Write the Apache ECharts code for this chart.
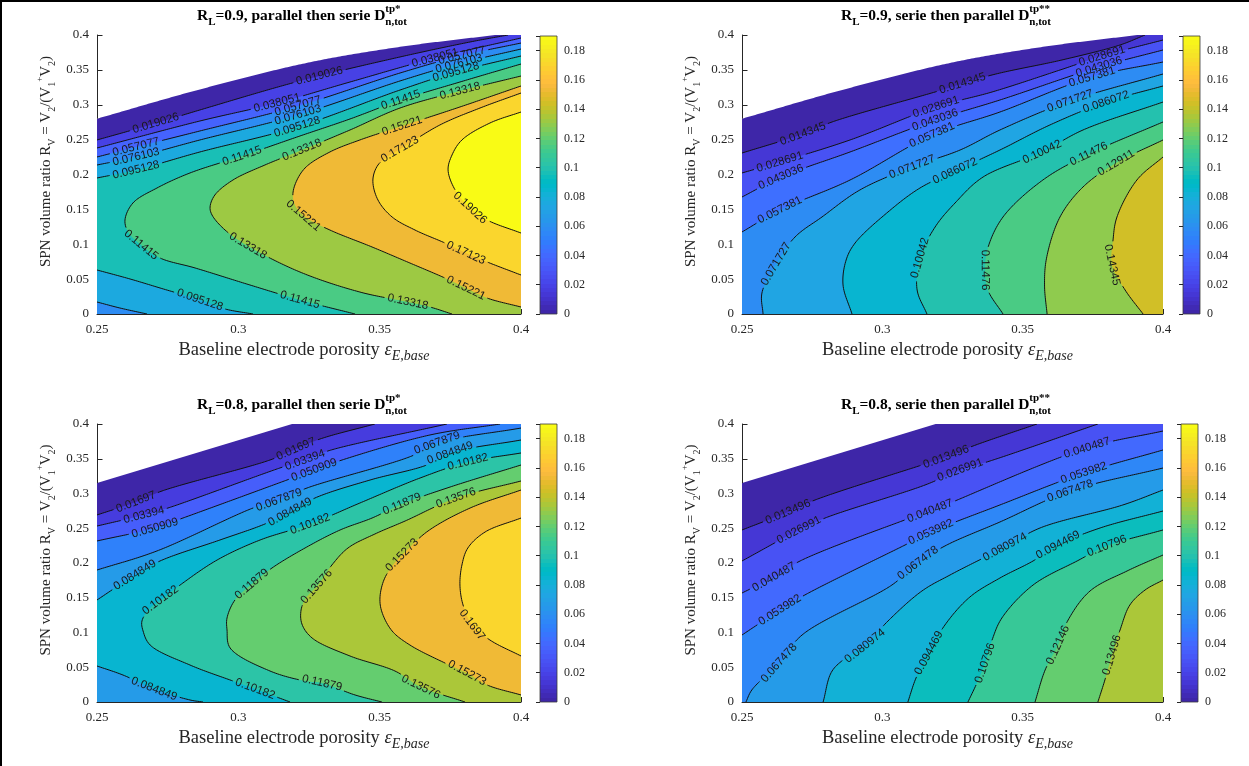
<!DOCTYPE html>
<html>
<head>
<meta charset="utf-8">
<title>SPN volume ratio contour maps</title>
<script src="https://cdn.jsdelivr.net/npm/echarts/dist/echarts.min.js"></script>
<style>
html, body { margin: 0; padding: 0; background: #fff; }
#chart { width: 1249px; height: 766px; }
</style>
</head>
<body>
<div id="chart"></div>
<script>
// ---------- shared axes and colour scale ----------
const xTicks = [0.25, 0.3, 0.35, 0.4];
const yTicks = [0, 0.05, 0.1, 0.15, 0.2, 0.25, 0.3, 0.35, 0.4];
const colorbarTicks = [0, 0.02, 0.04, 0.06, 0.08, 0.1, 0.12, 0.14, 0.16, 0.18];
const colorbarMax = 0.19;

// parula, 64 entries
const PARULA = [
[0.2422,0.1504,0.6603],[0.2504,0.1650,0.7076],[0.2578,0.1818,0.7511],[0.2647,0.1978,0.7952],
[0.2706,0.2147,0.8364],[0.2751,0.2342,0.8710],[0.2783,0.2559,0.8991],[0.2803,0.2782,0.9221],
[0.2813,0.3006,0.9414],[0.2810,0.3228,0.9579],[0.2795,0.3447,0.9717],[0.2760,0.3667,0.9829],
[0.2699,0.3892,0.9906],[0.2602,0.4123,0.9952],[0.2440,0.4358,0.9988],[0.2206,0.4603,0.9973],
[0.1963,0.4847,0.9892],[0.1834,0.5074,0.9798],[0.1786,0.5289,0.9682],[0.1764,0.5499,0.9520],
[0.1687,0.5703,0.9359],[0.1540,0.5902,0.9218],[0.1460,0.6091,0.9079],[0.1380,0.6276,0.8973],
[0.1248,0.6459,0.8883],[0.1113,0.6635,0.8763],[0.0952,0.6798,0.8598],[0.0689,0.6948,0.8394],
[0.0297,0.7082,0.8163],[0.0036,0.7203,0.7917],[0.0067,0.7312,0.7660],[0.0433,0.7411,0.7394],
[0.0964,0.7500,0.7120],[0.1408,0.7584,0.6842],[0.1717,0.7670,0.6554],[0.1938,0.7758,0.6251],
[0.2161,0.7843,0.5923],[0.2470,0.7918,0.5567],[0.2906,0.7973,0.5188],[0.3406,0.8008,0.4789],
[0.3909,0.8029,0.4354],[0.4456,0.8024,0.3909],[0.5044,0.7993,0.3480],[0.5616,0.7942,0.3045],
[0.6174,0.7876,0.2612],[0.6720,0.7793,0.2227],[0.7242,0.7698,0.1910],[0.7738,0.7598,0.1646],
[0.8203,0.7498,0.1535],[0.8634,0.7406,0.1596],[0.9035,0.7330,0.1774],[0.9393,0.7288,0.2100],
[0.9728,0.7298,0.2394],[0.9956,0.7434,0.2371],[0.9970,0.7659,0.2199],[0.9952,0.7893,0.2028],
[0.9892,0.8136,0.1885],[0.9786,0.8386,0.1766],[0.9676,0.8639,0.1643],[0.9610,0.8890,0.1537],
[0.9597,0.9135,0.1423],[0.9628,0.9373,0.1265],[0.9691,0.9606,0.1064],[0.9769,0.9839,0.0805]
];

// Upper feasibility limit of R_V versus porosity (white above it)
const limitRL09 = [[0.25,0.280],[0.2864,0.322],[0.3254,0.361],[0.3572,0.383],[0.3908,0.4]];
const limitRL08 = [[0.25,0.315],[0.319,0.4]];

// ---------- R_L = 0.9, parallel then serie ----------
const levelsA = [0.019026, 0.038051, 0.057077, 0.076103, 0.095128, 0.11415, 0.13318, 0.15221, 0.17123, 0.19026];
// [level index, contour path (porosity, R_V)]
const linesA = [
 [0, [[0.25,0.2495],[0.2688,0.2710],[0.2864,0.2925],[0.3218,0.3341],[0.3572,0.3685],[0.3820,0.3900],[0.3954,0.4]]],
 [1, [[0.25,0.2380],[0.2864,0.2767],[0.3137,0.3025],[0.3395,0.3326],[0.3696,0.3670],[0.4,0.3957]]],
 [2, [[0.25,0.2251],[0.2638,0.2394],[0.2864,0.2624],[0.3211,0.2982],[0.3572,0.3455],[0.3784,0.3699],[0.4,0.3885]]],
 [3, [[0.25,0.2136],[0.2638,0.2251],[0.2864,0.2495],[0.3211,0.2853],[0.3572,0.3341],[0.3774,0.3584],[0.4,0.3799]]],
 [3, [[0.2677,0],[0.2581,0.0086],[0.25,0.0172]]],
 [4, [[0.25,0.1950],[0.2638,0.2065],[0.2864,0.2323],[0.3208,0.2681],[0.3572,0.3211],[0.3770,0.3470],[0.4,0.3699]]],
 [4, [[0.3052,0],[0.2953,0.0072],[0.2864,0.0201],[0.2723,0.0373],[0.2617,0.0502],[0.25,0.0631]]],
 [5, [[0.3413,0],[0.3218,0.0201],[0.3041,0.0416],[0.2847,0.0660],[0.2723,0.0803],[0.2656,0.0989],[0.2610,0.1176],[0.2599,0.1348],[0.2627,0.1591],[0.2712,0.1806],[0.2829,0.2022],[0.3013,0.2265],[0.3218,0.2552],[0.3395,0.2796],[0.3575,0.3068],[0.3784,0.3326],[0.4,0.3584]]],
 [6, [[0.3756,0],[0.3678,0.0100],[0.3600,0.0172],[0.3430,0.0315],[0.3218,0.0602],[0.3034,0.0975],[0.2953,0.1204],[0.2907,0.1419],[0.2900,0.1534],[0.2917,0.1706],[0.2981,0.1921],[0.3094,0.2136],[0.3225,0.2351],[0.3395,0.2638],[0.3572,0.2953],[0.3784,0.3197],[0.4,0.3412]]],
 [7, [[0.4,0.0100],[0.3880,0.0229],[0.3805,0.0373],[0.3731,0.0516],[0.3607,0.0731],[0.3473,0.0961],[0.3324,0.1204],[0.3236,0.1391],[0.3204,0.1534],[0.3193,0.1677],[0.3200,0.1849],[0.3236,0.2093],[0.3324,0.2323],[0.3430,0.2495],[0.3579,0.2695],[0.3784,0.2968],[0.4,0.3269]]],
 [8, [[0.4,0.0559],[0.3880,0.0746],[0.3805,0.0875],[0.3731,0.1018],[0.3625,0.1204],[0.3544,0.1391],[0.3494,0.1634],[0.3476,0.1921],[0.3494,0.2136],[0.3537,0.2280],[0.3579,0.2380],[0.3713,0.2710],[0.3855,0.2953],[0.4,0.3168]]],
 [9, [[0.4,0.1161],[0.3880,0.1348],[0.3820,0.1520],[0.3767,0.1778],[0.3742,0.2065],[0.3756,0.2280],[0.3791,0.2495],[0.3890,0.2738],[0.4,0.2896]]]
];
// [level index, porosity, R_V] of inline labels
const labelsA = [
 [0,0.2709,0.2738],[0,0.3282,0.3455],
 [1,0.3137,0.3025],[1,0.3696,0.3713],
 [2,0.2638,0.2351],[2,0.3211,0.3011],[2,0.3784,0.3785],
 [3,0.2638,0.2208],[3,0.3211,0.2882],[3,0.3774,0.3642],
 [4,0.2638,0.2022],[4,0.3208,0.2681],[4,0.3770,0.3484],[4,0.2864,0.0201],
 [5,0.3013,0.2265],[5,0.2656,0.0989],[5,0.3218,0.0172],[5,0.3575,0.3068],
 [6,0.3225,0.2351],[6,0.3034,0.0975],[6,0.3600,0.0172],[6,0.3784,0.3197],
 [7,0.3222,0.1376],[7,0.3579,0.2695],[7,0.3805,0.0373],
 [8,0.3579,0.2323],[8,0.3805,0.0875],
 [9,0.3820,0.1520]
];

// ---------- R_L = 0.9, serie then parallel ----------
const levelsB = [0.014345, 0.028691, 0.043036, 0.057381, 0.071727, 0.086072, 0.10042, 0.11476, 0.12911, 0.14345];
const linesB = [
 [0, [[0.25,0.2308],[0.2717,0.2581],[0.2821,0.2753],[0.3188,0.3183],[0.3391,0.3427],[0.3640,0.3642],[0.3847,0.3857],[0.3936,0.4]]],
 [1, [[0.25,0.2022],[0.2635,0.2179],[0.2885,0.2495],[0.3191,0.2968],[0.3391,0.3183],[0.3633,0.3498],[0.3783,0.3699],[0.4,0.3928]]],
 [2, [[0.25,0.1677],[0.2639,0.1964],[0.2885,0.2323],[0.3188,0.2781],[0.3419,0.3068],[0.3772,0.3541],[0.4,0.3785]]],
 [3, [[0.25,0.1176],[0.2635,0.1491],[0.2885,0.1921],[0.3177,0.2566],[0.3419,0.2896],[0.3747,0.3398],[0.4,0.3613]]],
 [4, [[0.2575,0],[0.2571,0.0301],[0.2621,0.0717],[0.2689,0.1104],[0.2785,0.1391],[0.2920,0.1778],[0.3106,0.2108],[0.3277,0.2351],[0.3419,0.2638],[0.3669,0.3054],[0.4,0.3441]]],
 [5, [[0.2892,0],[0.2860,0.0416],[0.2871,0.0774],[0.2903,0.1018],[0.3020,0.1462],[0.3134,0.1806],[0.3259,0.2050],[0.3419,0.2351],[0.3597,0.2710],[0.3797,0.3039],[0.4,0.3269]]],
 [6, [[0.3159,0],[0.3124,0.0344],[0.3134,0.0803],[0.3188,0.1247],[0.3259,0.1591],[0.3359,0.1964],[0.3569,0.2323],[0.3715,0.2638],[0.4,0.3039]]],
 [7, [[0.3430,0],[0.3376,0.0344],[0.3366,0.0631],[0.3376,0.0946],[0.3430,0.1391],[0.3572,0.1921],[0.3736,0.2294],[0.4,0.2753]]],
 [8, [[0.3587,0],[0.3578,0.0400],[0.3585,0.0800],[0.3633,0.1391],[0.3715,0.1821],[0.3833,0.2165],[0.4,0.2495]]],
 [9, [[0.3929,0],[0.3865,0.0344],[0.3818,0.0703],[0.3822,0.1061],[0.3836,0.1391],[0.3907,0.1921],[0.4,0.2251]]]
];
const labelsB = [
 [0,0.2717,0.2581],[0,0.3287,0.3326],
 [1,0.2635,0.2179],[1,0.3191,0.2968],[1,0.3783,0.3699],
 [2,0.2639,0.1964],[2,0.3188,0.2781],[2,0.3772,0.3541],
 [3,0.2635,0.1491],[3,0.3177,0.2566],[3,0.3747,0.3398],
 [4,0.2621,0.0717],[4,0.3106,0.2108],[4,0.3669,0.3054],
 [5,0.3259,0.2050],[5,0.3797,0.3039],
 [6,0.3134,0.0803],[6,0.3569,0.2323],
 [7,0.3366,0.0631],[7,0.3736,0.2294],
 [8,0.3833,0.2165],
 [9,0.3818,0.0703]
];

// ---------- R_L = 0.8, parallel then serie ----------
const levelsC = [0.01697, 0.03394, 0.050909, 0.067879, 0.084849, 0.10182, 0.11879, 0.13576, 0.15273, 0.1697];
const linesC = [
 [0, [[0.25,0.2691],[0.2638,0.2878],[0.2730,0.3036],[0.3112,0.3482],[0.3204,0.3640],[0.3289,0.3784],[0.3483,0.4]]],
 [1, [[0.25,0.2532],[0.2666,0.2691],[0.2751,0.2791],[0.3147,0.3367],[0.3236,0.3482],[0.3317,0.3612],[0.3738,0.4]]],
 [2, [[0.25,0.2317],[0.2705,0.2504],[0.2804,0.2647],[0.3172,0.3194],[0.3268,0.3338],[0.3367,0.3482],[0.3678,0.3842],[0.3926,0.4]]],
 [3, [[0.25,0.1899],[0.2712,0.2173],[0.3052,0.2791],[0.3144,0.2906],[0.3243,0.3079],[0.3614,0.3540],[0.3703,0.3727],[0.4,0.3942]]],
 [4, [[0.25,0.1468],[0.2634,0.1827],[0.2723,0.2029],[0.2935,0.2331],[0.3094,0.2561],[0.3183,0.2734],[0.3271,0.2935],[0.3466,0.3194],[0.3667,0.3410],[0.3749,0.3583],[0.4,0.3770]]],
 [4, [[0.2875,0],[0.2829,0.0029],[0.2702,0.0187],[0.2592,0.0388],[0.25,0.0518]]],
 [5, [[0.3183,0],[0.3059,0.0187],[0.2981,0.0302],[0.2829,0.0532],[0.2688,0.0820],[0.2663,0.1022],[0.2659,0.1165],[0.2688,0.1353],[0.2730,0.1482],[0.2794,0.1683],[0.2925,0.2043],[0.3077,0.2331],[0.3254,0.2561],[0.3430,0.2863],[0.3643,0.3223],[0.3812,0.3453],[0.4,0.3583]]],
 [6, [[0.3508,0],[0.3413,0.0101],[0.3296,0.0273],[0.3236,0.0302],[0.3112,0.0446],[0.2971,0.0777],[0.2960,0.1036],[0.2960,0.1209],[0.2988,0.1468],[0.3048,0.1698],[0.3119,0.1928],[0.3236,0.2216],[0.3360,0.2475],[0.3473,0.2647],[0.3579,0.2849],[0.3749,0.3093],[0.4,0.3410]]],
 [7, [[0.3802,0],[0.3646,0.0216],[0.3554,0.0446],[0.3395,0.0662],[0.3261,0.0921],[0.3225,0.1122],[0.3222,0.1324],[0.3239,0.1496],[0.3282,0.1683],[0.3331,0.1971],[0.3388,0.2216],[0.3483,0.2417],[0.3590,0.2604],[0.3770,0.2935],[0.4,0.3180]]],
 [8, [[0.4,0.0101],[0.3880,0.0245],[0.3809,0.0417],[0.3731,0.0561],[0.3607,0.0820],[0.3544,0.1022],[0.3508,0.1295],[0.3501,0.1496],[0.3515,0.1755],[0.3547,0.1971],[0.3590,0.2158],[0.3671,0.2460],[0.3820,0.2791],[0.4,0.3050]]],
 [9, [[0.4,0.0662],[0.3890,0.0892],[0.3827,0.1108],[0.3795,0.1396],[0.3784,0.1683],[0.3791,0.1971],[0.3812,0.2216],[0.3873,0.2446],[0.4,0.2647]]]
];
const labelsC = [
 [0,0.2638,0.2878],[0,0.3204,0.3640],
 [1,0.2666,0.2691],[1,0.3236,0.3482],
 [2,0.2705,0.2504],[2,0.3268,0.3338],
 [3,0.3144,0.2906],[3,0.3703,0.3727],
 [4,0.2634,0.1827],[4,0.3183,0.2734],[4,0.3749,0.3583],[4,0.2702,0.0187],
 [5,0.2730,0.1453],[5,0.3254,0.2561],[5,0.3812,0.3453],[5,0.3059,0.0187],
 [6,0.3048,0.1698],[6,0.3579,0.2849],[6,0.3296,0.0273],
 [7,0.3282,0.1640],[7,0.3770,0.2935],[7,0.3646,0.0216],
 [8,0.3590,0.2086],[8,0.3809,0.0417],
 [9,0.3827,0.1108]
];

// ---------- R_L = 0.8, serie then parallel ----------
const levelsD = [0.013496, 0.026991, 0.040487, 0.053982, 0.067478, 0.080974, 0.094469, 0.10796, 0.12146, 0.13496];
const linesD = [
 [0, [[0.25,0.2475],[0.2664,0.2734],[0.2760,0.2906],[0.3141,0.3410],[0.3227,0.3525],[0.3323,0.3683],[0.3551,0.4]]],
 [1, [[0.25,0.2029],[0.2703,0.2475],[0.2796,0.2647],[0.3152,0.3122],[0.3277,0.3338],[0.3384,0.3468],[0.3768,0.4]]],
 [2, [[0.25,0.1568],[0.2614,0.1798],[0.2707,0.2029],[0.3070,0.2604],[0.3170,0.2748],[0.3241,0.2863],[0.3729,0.3655],[0.4,0.3899]]],
 [3, [[0.25,0.0964],[0.2635,0.1324],[0.2724,0.1540],[0.3081,0.2259],[0.3173,0.2446],[0.3419,0.2835],[0.3718,0.3295],[0.4,0.3626]]],
 [4, [[0.2514,0],[0.2535,0.0173],[0.2632,0.0561],[0.2714,0.0964],[0.3034,0.1683],[0.3127,0.2000],[0.3223,0.2245],[0.3419,0.2590],[0.3669,0.3036],[0.4,0.3367]]],
 [5, [[0.2789,0],[0.2821,0.0446],[0.2885,0.0676],[0.2938,0.0806],[0.3020,0.1165],[0.3141,0.1597],[0.3241,0.1827],[0.3437,0.2230],[0.3562,0.2504],[0.3857,0.2835],[0.4,0.3050]]],
 [6, [[0.3091,0],[0.3120,0.0345],[0.3166,0.0705],[0.3223,0.1108],[0.3312,0.1511],[0.3419,0.1784],[0.3537,0.2029],[0.3626,0.2259],[0.3776,0.2504],[0.4,0.2748]]],
 [7, [[0.3305,0],[0.3337,0.0273],[0.3366,0.0561],[0.3391,0.0892],[0.3426,0.1209],[0.3537,0.1683],[0.3694,0.2029],[0.3800,0.2245],[0.4,0.2475]]],
 [8, [[0.3544,0],[0.3580,0.0460],[0.3626,0.0820],[0.3662,0.1180],[0.3740,0.1597],[0.3872,0.1885],[0.4,0.2115]]],
 [9, [[0.3768,0],[0.3793,0.0317],[0.3818,0.0676],[0.3847,0.1036],[0.3882,0.1396],[0.3936,0.1611],[0.4,0.1755]]]
];
const labelsD = [
 [0,0.2664,0.2734],[0,0.3227,0.3525],
 [1,0.2703,0.2475],[1,0.3277,0.3338],
 [2,0.2614,0.1798],[2,0.3170,0.2748],[2,0.3729,0.3655],
 [3,0.2635,0.1324],[3,0.3173,0.2446],[3,0.3718,0.3295],
 [4,0.2632,0.0561],[4,0.3127,0.2000],[4,0.3669,0.3036],
 [5,0.2938,0.0806],[5,0.3437,0.2230],
 [6,0.3166,0.0705],[6,0.3626,0.2259],
 [7,0.3366,0.0561],[7,0.3800,0.2245],
 [8,0.3626,0.0820],
 [9,0.3818,0.0676]
];

// ---------- layout ----------
const SERIF = 'Liberation Serif';
const INK = '#262626';
const LABEL_FONT_SIZE = 11.5;
const LABEL_FAMILY = 'Liberation Sans';
const TICK_LEN = 5;

const panels = [
  { levels: levelsA, lines: linesA, labels: labelsA, limit: limitRL09, rl: '0.9', order: 'parallel then serie', star: '*',
    grid: { left: 97, top: 35, width: 424, height: 279 }, cbar: { left: 540, top: 36, width: 17, height: 278 }, titleX: 302, titleY: 16 },
  { levels: levelsB, lines: linesB, labels: labelsB, limit: limitRL09, rl: '0.9', order: 'serie then parallel', star: '**',
    grid: { left: 742, top: 35, width: 421, height: 279 }, cbar: { left: 1183, top: 36, width: 17, height: 278 }, titleX: 946, titleY: 16 },
  { levels: levelsC, lines: linesC, labels: labelsC, limit: limitRL08, rl: '0.8', order: 'parallel then serie', star: '*',
    grid: { left: 97, top: 424, width: 424, height: 278 }, cbar: { left: 540, top: 424, width: 17, height: 278 }, titleX: 302, titleY: 405 },
  { levels: levelsD, lines: linesD, labels: labelsD, limit: limitRL08, rl: '0.8', order: 'serie then parallel', star: '**',
    grid: { left: 742, top: 424, width: 421, height: 278 }, cbar: { left: 1181, top: 424, width: 17, height: 278 }, titleX: 946, titleY: 405 }
];

// ---------- helpers ----------
function rgbOf(c) { return 'rgb(' + c.map(function (v) { return Math.round(v * 255); }).join(',') + ')'; }
function levelColor(v) {
  let i = Math.floor(v / colorbarMax * PARULA.length);
  i = Math.max(0, Math.min(PARULA.length - 1, i));
  return rgbOf(PARULA[i]);
}
function dist(a, b) { return Math.hypot(b[0] - a[0], b[1] - a[1]); }

// centripetal Catmull-Rom through the given screen points
function smooth(pts) {
  const n = pts.length;
  if (n < 3) return pts.map(function (p) { return p.slice(); });
  const P = [[2 * pts[0][0] - pts[1][0], 2 * pts[0][1] - pts[1][1]]].concat(pts,
            [[2 * pts[n - 1][0] - pts[n - 2][0], 2 * pts[n - 1][1] - pts[n - 2][1]]]);
  const out = [pts[0].slice()];
  for (let i = 1; i <= P.length - 3; i++) {
    const p0 = P[i - 1], p1 = P[i], p2 = P[i + 1], p3 = P[i + 2];
    const t0 = 0;
    const t1 = t0 + Math.max(Math.sqrt(dist(p0, p1)), 1e-3);
    const t2 = t1 + Math.max(Math.sqrt(dist(p1, p2)), 1e-3);
    const t3 = t2 + Math.max(Math.sqrt(dist(p2, p3)), 1e-3);
    const steps = Math.max(2, Math.ceil(dist(p1, p2) / 2));
    for (let j = 1; j <= steps; j++) {
      const t = t1 + (t2 - t1) * j / steps;
      const q = [0, 0];
      for (let d = 0; d < 2; d++) {
        const A1 = (t1 - t) / (t1 - t0) * p0[d] + (t - t0) / (t1 - t0) * p1[d];
        const A2 = (t2 - t) / (t2 - t1) * p1[d] + (t - t1) / (t2 - t1) * p2[d];
        const A3 = (t3 - t) / (t3 - t2) * p2[d] + (t - t2) / (t3 - t2) * p3[d];
        const B1 = (t2 - t) / (t2 - t0) * A1 + (t - t0) / (t2 - t0) * A2;
        const B2 = (t3 - t) / (t3 - t1) * A2 + (t - t1) / (t3 - t1) * A3;
        q[d] = (t2 - t) / (t2 - t1) * B1 + (t - t1) / (t2 - t1) * B2;
      }
      out.push(q);
    }
  }
  return out;
}
function cumLen(pts) {
  const c = [0];
  for (let i = 1; i < pts.length; i++) c.push(c[i - 1] + dist(pts[i - 1], pts[i]));
  return c;
}
function pointAt(pc, s) {
  const c = pc.cum, p = pc.pts;
  if (s <= 0) return p[0].slice();
  if (s >= c[c.length - 1]) return p[p.length - 1].slice();
  let i = 1;
  while (c[i] < s) i++;
  const t = (s - c[i - 1]) / ((c[i] - c[i - 1]) || 1);
  return [p[i - 1][0] + (p[i][0] - p[i - 1][0]) * t, p[i - 1][1] + (p[i][1] - p[i - 1][1]) * t];
}
// position of a border point along the plot frame, clockwise from the top-left corner
function edgeParam(p, r) {
  const d = [Math.abs(p[1] - r.T), Math.abs(p[0] - r.R), Math.abs(p[1] - r.B), Math.abs(p[0] - r.L)];
  let e = 0;
  for (let i = 1; i < 4; i++) if (d[i] < d[e]) e = i;
  const w = r.R - r.L, h = r.B - r.T;
  if (e === 0) return (p[0] - r.L) / w;
  if (e === 1) return 1 + (p[1] - r.T) / h;
  if (e === 2) return 2 + (r.R - p[0]) / w;
  return 3 + (r.B - p[1]) / h;
}
function walkFrame(from, to, r, out) {
  const a = edgeParam(from, r);
  let b = edgeParam(to, r);
  if (b <= a) b += 4;
  const corners = [[r.L, r.T], [r.R, r.T], [r.R, r.B], [r.L, r.B]];
  for (let c = Math.floor(a) + 1; c < b; c++) out.push(corners[c % 4]);
}
function keepRuns(pc) {
  const total = pc.cum[pc.cum.length - 1];
  const gaps = pc.gaps.slice().sort(function (a, b) { return a[0] - b[0]; });
  const keeps = [];
  let start = 0;
  gaps.forEach(function (g) {
    if (g[0] > start) keeps.push([start, Math.min(g[0], total)]);
    start = Math.max(start, g[1]);
  });
  if (start < total) keeps.push([start, total]);
  return keeps.filter(function (k) { return k[1] - k[0] > 0.5; }).map(function (k) {
    const run = [pointAt(pc, k[0])];
    for (let i = 0; i < pc.pts.length; i++) if (pc.cum[i] > k[0] && pc.cum[i] < k[1]) run.push(pc.pts[i]);
    run.push(pointAt(pc, k[1]));
    return run;
  });
}
const measureCtx = document.createElement('canvas').getContext('2d');
function textWidth(t) {
  measureCtx.font = LABEL_FONT_SIZE + 'px "' + LABEL_FAMILY + '"';
  return measureCtx.measureText(t).width;
}

// filled contours, contour lines with inline labels, and the infeasible (blank) region;
// the axes sit underneath, so their line and ticks only show where the plot is blank
function contourRenderer(panel) {
  return function (params, api) {
    const cs = params.coordSys;
    const r = { L: cs.x, T: cs.y, R: cs.x + cs.width, B: cs.y + cs.height };
    const pieces = panel.lines.map(function (ln) {
      const pts = smooth(ln[1].map(function (p) { return api.coord(p); }));
      return { k: ln[0], pts: pts, cum: cumLen(pts), gaps: [] };
    });
    const kids = [];
    kids.push({ type: 'rect', shape: { x: r.L, y: r.T, width: r.R - r.L, height: r.B - r.T },
                style: { fill: levelColor(0) } });
    panel.levels.forEach(function (lv, k) {
      const own = pieces.filter(function (p) { return p.k === k; });
      if (!own.length) return;
      const poly = [];
      own.forEach(function (pc, i) {
        const nxt = own[(i + 1) % own.length];
        pc.pts.forEach(function (q) { poly.push(q); });
        walkFrame(pc.pts[pc.pts.length - 1], nxt.pts[0], r, poly);
      });
      kids.push({ type: 'polygon', shape: { points: poly }, style: { fill: levelColor(lv) } });
    });
    const texts = [];
    panel.labels.forEach(function (lb) {
      const k = lb[0];
      const target = api.coord([lb[1], lb[2]]);
      let best = null;
      pieces.forEach(function (pc) {
        if (pc.k !== k) return;
        pc.pts.forEach(function (q, i) {
          const d = (q[0] - target[0]) * (q[0] - target[0]) + (q[1] - target[1]) * (q[1] - target[1]);
          if (!best || d < best.d) best = { d: d, pc: pc, i: i };
        });
      });
      if (!best) return;
      const txt = String(panel.levels[k]);
      const w = textWidth(txt);
      const s = best.pc.cum[best.i];
      const a = pointAt(best.pc, s - 7), b = pointAt(best.pc, s + 7);
      let th = Math.atan2(b[1] - a[1], b[0] - a[0]);
      if (th > Math.PI / 2) th -= Math.PI;
      else if (th < -Math.PI / 2) th += Math.PI;
      best.pc.gaps.push([s - w / 2 - 3, s + w / 2 + 3]);
      const c = best.pc.pts[best.i];
      texts.push({ type: 'text', x: c[0], y: c[1], rotation: -th,
        style: { text: txt, fill: '#1a1a1a', fontSize: LABEL_FONT_SIZE, fontFamily: LABEL_FAMILY,
                 align: 'center', verticalAlign: 'middle', textAlign: 'center', textVerticalAlign: 'middle' } });
    });
    pieces.forEach(function (pc) {
      keepRuns(pc).forEach(function (run) {
        kids.push({ type: 'polyline', shape: { points: run }, style: { stroke: '#111', lineWidth: 1, fill: null } });
      });
    });
    const lim = smooth(panel.limit.map(function (p) { return api.coord(p); }));
    lim.push([r.L, r.T]);
    kids.push({ type: 'polygon', shape: { points: lim }, style: { fill: '#ffffff' } });
    // y axis line and inward ticks in the blank corner
    const ax = Math.floor(r.L) + 0.5;
    const limStart = api.coord(panel.limit[0]);
    kids.push({ type: 'line', shape: { x1: ax, y1: r.T, x2: ax, y2: limStart[1] }, style: { stroke: INK, lineWidth: 1 } });
    yTicks.forEach(function (t) {
      if (t <= panel.limit[0][1]) return;
      const ty = Math.round(api.coord([xTicks[0], t])[1]) + 0.5;
      kids.push({ type: 'line', shape: { x1: ax, y1: ty, x2: ax + TICK_LEN, y2: ty }, style: { stroke: INK, lineWidth: 1 } });
    });
    texts.forEach(function (t) { kids.push(t); });
    return { type: 'group', children: kids };
  };
}

function colorbarRenderer(params, api) {
  const a = api.coord([0, 0]), b = api.coord([1, colorbarMax]);
  const stops = [];
  PARULA.forEach(function (c, i) {
    const col = rgbOf(c);
    stops.push({ offset: i / PARULA.length, color: col }, { offset: (i + 1) / PARULA.length, color: col });
  });
  const shape = { x: a[0], y: b[1], width: b[0] - a[0], height: a[1] - b[1] };
  return { type: 'group', children: [
    { type: 'rect', shape: shape, style: { fill: { type: 'linear', x: 0, y: 1, x2: 0, y2: 0, colorStops: stops, global: false } } },
    { type: 'rect', shape: shape, style: { fill: null, stroke: '#3a3a3a', lineWidth: 0.8 } }
  ] };
}

function step(ticks) { return +((ticks[ticks.length - 1] - ticks[0]) / (ticks.length - 1)).toFixed(6); }

// ---------- option ----------
const grids = [], xAxes = [], yAxes = [], series = [], graphics = [];
const subStyle = function (size, extra) {
  return Object.assign({ fontFamily: SERIF, fontSize: size, color: INK }, extra || {});
};
const titleToken = function (size, extra) {
  return Object.assign({ fontFamily: SERIF, fontSize: size, fontWeight: 'bold', fill: '#000', color: '#000', align: 'left' }, extra);
};

panels.forEach(function (pn, i) {
  grids.push(Object.assign({ containLabel: false, outerBoundsMode: 'none' }, pn.grid));
  xAxes.push({
    gridIndex: i, type: 'value', min: xTicks[0], max: xTicks[xTicks.length - 1], interval: step(xTicks), z: 0,
    axisLine: { show: true, onZero: false, lineStyle: { color: INK, width: 1 } },
    axisTick: { show: true, inside: true, length: TICK_LEN, lineStyle: { color: INK, width: 1 } },
    axisLabel: { margin: 9, fontFamily: SERIF, fontSize: 13, color: INK },
    splitLine: { show: false },
    name: 'Baseline electrode porosity {e|ε}{es|E,base}',
    nameLocation: 'middle', nameGap: 21,
    nameTextStyle: { fontFamily: SERIF, fontSize: 18.5, color: INK, lineHeight: 26, padding: [0, 10, 0, 0],
      rich: { e: subStyle(18.5, { fontStyle: 'italic', lineHeight: 26 }),
              es: subStyle(14, { fontStyle: 'italic', verticalAlign: 'bottom', lineHeight: 17 }) } }
  });
  yAxes.push({
    gridIndex: i, type: 'value', min: yTicks[0], max: yTicks[yTicks.length - 1], interval: step(yTicks), z: 0,
    axisLine: { show: true, onZero: false, lineStyle: { color: INK, width: 1 } },
    axisTick: { show: true, inside: true, length: TICK_LEN, lineStyle: { color: INK, width: 1 } },
    axisLabel: { margin: 8, fontFamily: SERIF, fontSize: 13, color: INK },
    splitLine: { show: false },
    name: 'SPN volume ratio R{s|V} = V{s|2}/(V{s|1}{p|+}V{s|2})',
    nameLocation: 'middle', nameRotate: 90, nameGap: 40,
    nameTextStyle: { fontFamily: SERIF, fontSize: 15, color: INK, lineHeight: 22, padding: [0, 0, 0, 26],
      rich: { s: subStyle(10, { verticalAlign: 'bottom', lineHeight: 13 }),
              p: subStyle(9, { verticalAlign: 'top', lineHeight: 11 }) } }
  });
  series.push({ type: 'custom', xAxisIndex: i, yAxisIndex: i, coordinateSystem: 'cartesian2d',
    data: [[xTicks[0], yTicks[0]]], renderItem: contourRenderer(pn), clip: true, silent: true, animation: false, z: 2 });

  graphics.push({ type: 'text', x: pn.titleX, y: pn.titleY, z: 10,
    style: {
      text: '{m|R}{s|L}{m|=' + pn.rl + ', ' + pn.order + ' D}{u|tp' + pn.star + '}{s|n,tot}',
      align: 'center', verticalAlign: 'middle', textAlign: 'center', textVerticalAlign: 'middle',
      fontFamily: SERIF, fontSize: 15.5, fontWeight: 'bold', fill: '#000',
      rich: {
        m: titleToken(15.5, { lineHeight: 24 }),
        s: titleToken(11, { lineHeight: 18, verticalAlign: 'bottom' }),
        u: titleToken(11, { lineHeight: 7, verticalAlign: 'top', width: 0 })
      }
    } });
});

panels.forEach(function (pn, i) {
  const gi = panels.length + i;
  grids.push(Object.assign({ containLabel: false, outerBoundsMode: 'none' }, pn.cbar));
  xAxes.push({ gridIndex: gi, type: 'value', min: 0, max: 1, show: false });
  yAxes.push({
    gridIndex: gi, type: 'value', position: 'right', min: colorbarTicks[0], max: colorbarMax, interval: step(colorbarTicks),
    axisLine: { show: false },
    axisTick: { show: true, inside: true, length: 4, lineStyle: { color: INK, width: 1 } },
    axisLabel: { margin: 7, fontFamily: SERIF, fontSize: 12, color: INK,
      formatter: function (v) { return v > colorbarTicks[colorbarTicks.length - 1] + 1e-9 ? '' : String(+v.toFixed(4)); } },
    splitLine: { show: false }, z: 5
  });
  series.push({ type: 'custom', xAxisIndex: gi, yAxisIndex: gi, coordinateSystem: 'cartesian2d',
    data: [[0.5, colorbarMax / 2]], renderItem: colorbarRenderer, silent: true, animation: false, z: 2 });
});

// figure frame
graphics.push({ type: 'line', shape: { x1: 0, y1: 1, x2: 1249, y2: 1 }, style: { stroke: '#000', lineWidth: 2 }, z: 20 });
graphics.push({ type: 'line', shape: { x1: 1, y1: 0, x2: 1, y2: 766 }, style: { stroke: '#000', lineWidth: 2 }, z: 20 });

const chart = echarts.init(document.getElementById('chart'), null, { renderer: 'canvas' });
chart.setOption({
  backgroundColor: '#ffffff',
  animation: false,
  grid: grids,
  xAxis: xAxes,
  yAxis: yAxes,
  series: series,
  graphic: graphics
});
</script>
</body>
</html>
